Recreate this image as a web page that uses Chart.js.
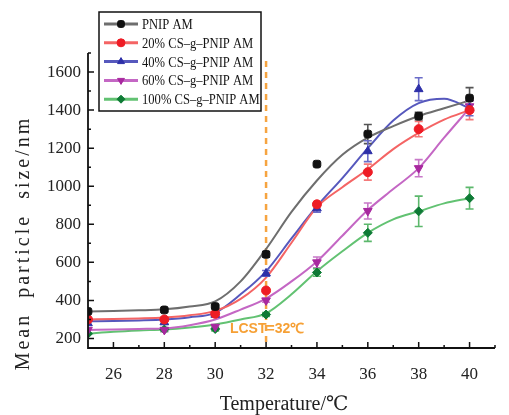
<!DOCTYPE html>
<html>
<head>
<meta charset="utf-8">
<script src="https://cdn.jsdelivr.net/npm/chart.js@4/dist/chart.umd.min.js"></script>
<style>
  html, body { margin: 0; padding: 0; background: #fff; }
  #chart { display: block; }
</style>
</head>
<body>
<canvas id="chart" width="509" height="415"></canvas>
<script>
// measured points (temperature, mean particle size nm)
const temps = [25, 28, 30, 32, 34, 36, 38, 40];
const pnipam = [342, 350, 368, 642, 1116, 1274, 1368, 1463];
const cs20 = [300, 300, 330, 452, 905, 1074, 1300, 1400];
const cs40 = [280, 285, 325, 542, 884, 1184, 1510, 1410];
const cs60 = [245, 245, 262, 400, 600, 870, 1095, 1420];
const cs100 = [225, 247, 250, 326, 547, 755, 868, 937];

// error bar half-widths
const pnipamErr = [0, 10, 10, 15, 0, 50, 20, 55];
const cs20Err = [0, 10, 10, 10, 15, 42, 40, 50];
const cs40Err = [0, 10, 10, 15, 20, 55, 60, 40];
const cs60Err = [0, 10, 10, 10, 28, 42, 45, 30];
const cs100Err = [0, 10, 10, 10, 20, 45, 80, 57];

// fitted curves
const fitTemps = [25, 26, 27, 28, 29, 30, 31, 32, 33, 34, 35, 36, 37, 38, 39, 40];
const pnipamFit = [342, 345, 348, 353, 368, 395, 500, 670, 865, 1030, 1165, 1255, 1316, 1369, 1410, 1450];
const cs20Fit = [300, 302, 305, 310, 322, 345, 408, 520, 703, 890, 995, 1089, 1195, 1280, 1350, 1400];
const cs40Fit = [290, 292, 295, 300, 312, 335, 432, 553, 726, 895, 1043, 1200, 1345, 1437, 1460, 1410];
const cs60Fit = [245, 247, 250, 253, 270, 300, 352, 410, 500, 605, 740, 875, 985, 1095, 1255, 1410];
const cs100Fit = [225, 235, 242, 247, 258, 274, 300, 332, 432, 553, 658, 755, 826, 868, 910, 937];

const xTicks = [26, 28, 30, 32, 34, 36, 38, 40];
const yTicks = [200, 400, 600, 800, 1000, 1200, 1400, 1600];
const lcstTemp = 32;
const lcstText = 'LCST=32\u2103';

const names = ['PNIP AM', '20% CS\u2013g\u2013PNIP AM', '40% CS\u2013g\u2013PNIP AM', '60% CS\u2013g\u2013PNIP AM', '100% CS\u2013g\u2013PNIP AM'];

const series = [
  { pts: pnipam, err: pnipamErr, fit: pnipamFit, mark: '#111111', line: '#6e6e6e', bar: '#555555', style: 'rectRounded', rot: 0 },
  { pts: cs20, err: cs20Err, fit: cs20Fit, mark: '#ee1c25', line: '#f46464', bar: '#f47a7a', style: 'circle', rot: 0 },
  { pts: cs40, err: cs40Err, fit: cs40Fit, mark: '#2d2fa8', line: '#5658bd', bar: '#6a6cc8', style: 'triangle', rot: 0 },
  { pts: cs60, err: cs60Err, fit: cs60Fit, mark: '#a8289f', line: '#c467c4', bar: '#c878c8', style: 'triangle', rot: 180 },
  { pts: cs100, err: cs100Err, fit: cs100Fit, mark: '#0e7a35', line: '#62c272', bar: '#5cb86c', style: 'rectRot', rot: 0 }
];

const serif = '"Liberation Serif", "DejaVu Serif", serif';

const markerSets = series.map((s, i) => ({
  label: names[i],
  data: temps.map((t, k) => ({ x: t, y: s.pts[k] })),
  showLine: false,
  pointStyle: s.style,
  rotation: s.rot,
  pointRadius: s.style === 'triangle' ? 5 : 4.5,
  pointBackgroundColor: s.mark,
  pointBorderColor: s.mark,
  pointBorderWidth: 1
}));

const curveSets = series.map((s, i) => ({
  label: names[i] + ' fit',
  data: fitTemps.map((t, k) => ({ x: t, y: s.fit[k] })),
  borderColor: s.line,
  borderWidth: 2,
  pointRadius: 0,
  tension: 0.4,
  cubicInterpolationMode: 'monotone',
  fill: false
}));

const decor = {
  id: 'decor',
  beforeDatasetDraw(chart, args) {
    // error bars go under the markers (markers are datasets 0..4, drawn last)
    if (args.index !== series.length - 1) return;
    const ctx = chart.ctx, xs = chart.scales.x, ys = chart.scales.y;
    ctx.save();
    ctx.lineWidth = 1.6;
    series.forEach(s => {
      ctx.strokeStyle = s.bar;
      temps.forEach((t, k) => {
        const e = s.err[k];
        if (!e) return;
        const px = xs.getPixelForValue(t);
        const top = ys.getPixelForValue(s.pts[k] + e);
        const bot = ys.getPixelForValue(s.pts[k] - e);
        ctx.beginPath();
        ctx.moveTo(px, top); ctx.lineTo(px, bot);
        ctx.moveTo(px - 4, top); ctx.lineTo(px + 4, top);
        ctx.moveTo(px - 4, bot); ctx.lineTo(px + 4, bot);
        ctx.stroke();
      });
    });
    ctx.restore();
  },
  beforeDatasetsDraw(chart) {
    const ctx = chart.ctx, xs = chart.scales.x, a = chart.chartArea;
    const px = xs.getPixelForValue(lcstTemp);
    ctx.save();
    ctx.strokeStyle = '#f6a440';
    ctx.lineWidth = 2.5;
    ctx.setLineDash([6, 5]);
    ctx.beginPath();
    ctx.moveTo(px, a.top + 8);
    ctx.lineTo(px, a.bottom);
    ctx.stroke();
    ctx.restore();
  },
  afterDraw(chart) {
    const ctx = chart.ctx, xs = chart.scales.x, ys = chart.scales.y, a = chart.chartArea;
    ctx.save();
    // axes
    ctx.strokeStyle = '#111';
    ctx.lineWidth = 1.8;
    ctx.beginPath();
    ctx.moveTo(a.left, a.top);
    ctx.lineTo(a.left, a.bottom);
    ctx.lineTo(a.right, a.bottom);
    ctx.stroke();
    ctx.lineWidth = 1.5;
    ctx.beginPath();
    for (let v = 200; v <= 1700; v += 100) {
      const py = ys.getPixelForValue(v);
      const len = v % 200 === 0 ? 6 : 3;
      ctx.moveTo(a.left, py); ctx.lineTo(a.left + len, py);
    }
    for (let t = 26; t <= 41; t++) {
      const px = xs.getPixelForValue(t);
      const len = t % 2 === 0 ? 6 : 3;
      ctx.moveTo(px, a.bottom); ctx.lineTo(px, a.bottom - len);
    }
    ctx.stroke();

    // LCST label
    ctx.fillStyle = '#f6a035';
    ctx.font = 'bold 14px "Liberation Sans", Arial, sans-serif';
    ctx.textAlign = 'center';
    ctx.textBaseline = 'middle';
    ctx.fillText(lcstText, xs.getPixelForValue(lcstTemp) + 1, ys.getPixelForValue(250));

    // axis titles
    ctx.fillStyle = '#222';
    ctx.font = '20px ' + serif;
    ctx.textBaseline = 'middle';
    ctx.fillText('Temperature/\u2103', 284, 405);
    ctx.save();
    ctx.translate(24, 243);
    ctx.rotate(-Math.PI / 2);
    ctx.letterSpacing = '3px';
    ctx.wordSpacing = '7px';
    ctx.fillText('Mean particle size/nm', 0, 0);
    ctx.restore();

    // legend
    const bx = 99, by = 12, bw = 162, bh = 99;
    ctx.fillStyle = '#fff';
    ctx.fillRect(bx, by, bw, bh);
    ctx.strokeStyle = '#111';
    ctx.lineWidth = 1.5;
    ctx.strokeRect(bx, by, bw, bh);
    series.forEach((s, i) => {
      const y = 24 + i * 18.8;
      ctx.strokeStyle = s.line;
      ctx.lineWidth = 3;
      ctx.beginPath();
      ctx.moveTo(104, y); ctx.lineTo(138, y);
      ctx.stroke();
      ctx.fillStyle = s.mark;
      ctx.strokeStyle = s.mark;
      ctx.lineWidth = 1;
      Chart.helpers.drawPoint(ctx, { pointStyle: s.style, rotation: s.rot, radius: 4, borderWidth: 1 }, 121, y);
      ctx.save();
      ctx.translate(142, y + 1);
      ctx.scale(0.84, 1);
      ctx.fillStyle = '#151515';
      ctx.font = '15px ' + serif;
      ctx.textAlign = 'left';
      ctx.textBaseline = 'middle';
      ctx.fillText(names[i], 0, 0);
      ctx.restore();
    });
    ctx.restore();
  }
};

new Chart(document.getElementById('chart'), {
  type: 'line',
  data: { datasets: markerSets.concat(curveSets) },
  options: {
    responsive: false,
    animation: false,
    layout: { padding: { left: 0, right: 14, top: 53, bottom: 0 } },
    plugins: { legend: { display: false }, tooltip: { enabled: false } },
    scales: {
      x: {
        type: 'linear',
        min: 25,
        max: 41,
        afterFit: s => { s.height = 67; },
        afterBuildTicks: s => { s.ticks = xTicks.map(v => ({ value: v })); },
        grid: { display: false, drawTicks: false },
        border: { display: false },
        ticks: { color: '#222', padding: 16, font: { family: serif, size: 17 }, callback: v => String(v) }
      },
      y: {
        min: 150,
        max: 1700,
        afterFit: s => { s.width = 88; },
        afterBuildTicks: s => { s.ticks = yTicks.map(v => ({ value: v })); },
        grid: { display: false, drawTicks: false },
        border: { display: false },
        ticks: { color: '#222', padding: 7, font: { family: serif, size: 17 }, callback: v => String(v) }
      }
    }
  },
  plugins: [decor]
});
</script>
</body>
</html>
